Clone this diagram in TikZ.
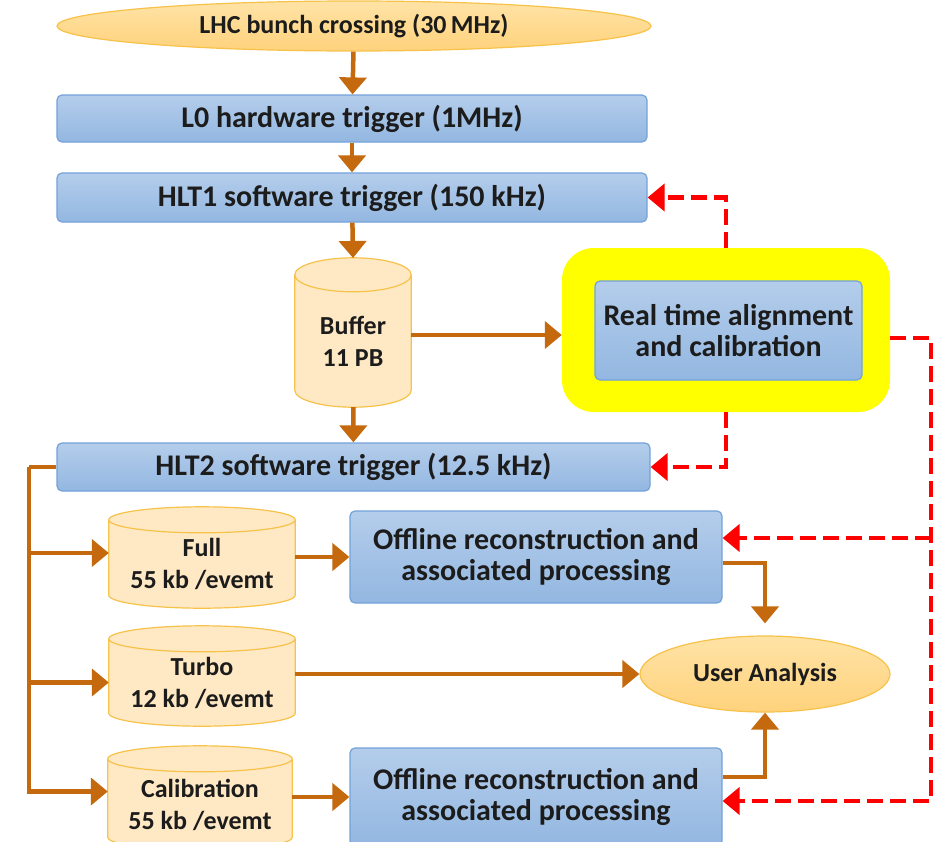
\documentclass[tikz,border=0pt]{standalone}
\usepackage{fontspec}
\setmainfont{Carlito}
\usetikzlibrary{shapes.geometric,arrows.meta,calc,backgrounds}
\definecolor{orgline}{HTML}{C4690E}
\definecolor{blueT}{HTML}{B4CDEB}
\definecolor{blueB}{HTML}{93B7E1}
\definecolor{blueD}{HTML}{73A2DA}
\definecolor{orgT}{HTML}{FFE3A6}
\definecolor{orgB}{HTML}{FFD27C}
\definecolor{orgD}{HTML}{F6C24A}
\definecolor{orgTop}{HTML}{FFE9C4}
\definecolor{cylbody}{HTML}{FFD587}
\definecolor{ylw}{HTML}{FFFF00}
\definecolor{txt}{HTML}{1C1C1C}
% node spans from the centre of the top cap to the bottom of the cylinder
\newcommand\cylbg[2]{%
  \path let \p1=(#1.north west), \p2=(#1.south east), \n1={(\x2-\x1)/2}, \n2={#2pt} in
    [fill=cylbody, draw=orgD, line width=1.2pt]
    (\x1,\y1) -- (\x1,\y2+\n2) arc[start angle=180,end angle=360,x radius=\n1,y radius=\n2]
    -- (\x2,\y1) arc[start angle=0,end angle=180,x radius=\n1,y radius=\n2] -- cycle
    [fill=orgTop] (\x2,\y1) arc[start angle=0,end angle=360,x radius=\n1,y radius=\n2];
}
\tikzset{
  bluebox/.style={rectangle, rounded corners=5pt, draw=blueD, line width=1.2pt,
    top color=blueT, bottom color=blueB, inner sep=0pt, align=center,
    font=\fontsize{30}{31}\selectfont\bfseries, text=txt},
  orgell/.style={ellipse, draw=orgD, line width=1.2pt, top color=orgT, bottom color=orgB,
    inner sep=0pt, align=center, font=\fontsize{26}{31}\selectfont\bfseries, text=txt},
  cylnode/.style={rectangle, inner sep=0pt, align=center,
    font=\fontsize{26}{32}\selectfont\bfseries, text=txt},
  flow/.style={draw=orgline, line width=4.5pt, -{Triangle[width=27pt,length=17pt]}},
  flowline/.style={draw=orgline, line width=4.5pt},
  fb/.style={draw=red, line width=4.5pt, dash pattern=on 16pt off 7pt,
    -{Triangle[width=27pt,length=17pt]}},
}
\begin{document}
\begin{tikzpicture}[x=1pt,y=1pt]
\useasboundingbox (0,0) rectangle (945,-841);
% main chain
\node[orgell, minimum width=594, minimum height=50] (lhc) at (354,-26) {LHC bunch crossing (30\,MHz)};
\node[bluebox, minimum width=590, minimum height=47] (l0) at (352,-118.5) {L0 hardware trigger (1MHz)};
\node[bluebox, minimum width=590, minimum height=49] (hlt1) at (352,-197.5) {HLT1 software trigger (150 kHz)};
\node[cylnode, minimum width=116, minimum height=132] (buf) at (353,-341) {Buffer\\11 PB};
\node[rectangle, rounded corners=32pt, fill=ylw, minimum width=328, minimum height=164] (yel) at (726,-330) {};
\node[bluebox, minimum width=267, minimum height=99] (rt) at (728.5,-330.5) {Real time alignment\\and calibration};
\node[bluebox, minimum width=593, minimum height=48] (hlt2) at (353.5,-467) {HLT2 software trigger (12.5 kHz)};
% streams
\node[cylnode, minimum width=186, minimum height=88] (full) at (202,-564) {Full\\55 kb /evemt};
\node[cylnode, minimum width=186, minimum height=87] (turbo) at (202,-682.5) {Turbo\\12 kb /evemt};
\node[cylnode, minimum width=184, minimum height=91] (calib) at (200,-804.5) {Calibration\\55 kb /evemt};
\node[bluebox, minimum width=372, minimum height=92] (off1) at (536,-557) {Offline reconstruction and\\associated processing};
\node[bluebox, minimum width=372, minimum height=98] (off2) at (536,-797) {Offline reconstruction and\\associated processing};
\node[orgell, minimum width=250, minimum height=76] (ua) at (765,-674) {User Analysis};
\begin{pgfonlayer}{background}
\cylbg{buf}{17}
\cylbg{full}{13}
\cylbg{turbo}{13}
\cylbg{calib}{13}
\end{pgfonlayer}
% flow arrows
\draw[flow] (lhc) -- (l0);
\draw[flow] (l0) -- (hlt1);
\draw[flow] (hlt1) -- (buf.north |- 0,-258);
\draw[flow] (buf) -- (hlt2);
\draw[flow] (buf.east |- 0,-335) -- (yel.west |- 0,-335);
\coordinate (bus) at (29,-467);
\draw[flowline] (hlt2.west) -- (bus);
\draw[flow] (bus) |- ([yshift=13]calib.west);
\draw[flow] (bus |- 0,-553) -- (full.west |- 0,-553);
\draw[flow] (bus |- turbo.west) -- (turbo.west);
\draw[flow] (full.east |- off1.west) -- (off1.west);
\draw[flow] (turbo.east |- ua.west) -- (ua.west);
\draw[flow] (calib.east |- off2.west) -- (off2.west);
\draw[flow, shorten >=12pt] ([yshift=-6]off1.east) -| (ua.north);
\draw[flow] ([yshift=20]off2.east) -| (ua.south);
% feedback
\draw[fb] (yel.north) |- (hlt1.east);
\draw[fb] (yel.south) |- (hlt2.east);
\coordinate (rc) at (931,-338);
\draw[fb] (yel.east |- rc) -- (rc) |- ([yshift=-4]off2.east);
\draw[fb] (rc |- 0,-538) -- ([yshift=19]off1.east);
\end{tikzpicture}
\end{document}
